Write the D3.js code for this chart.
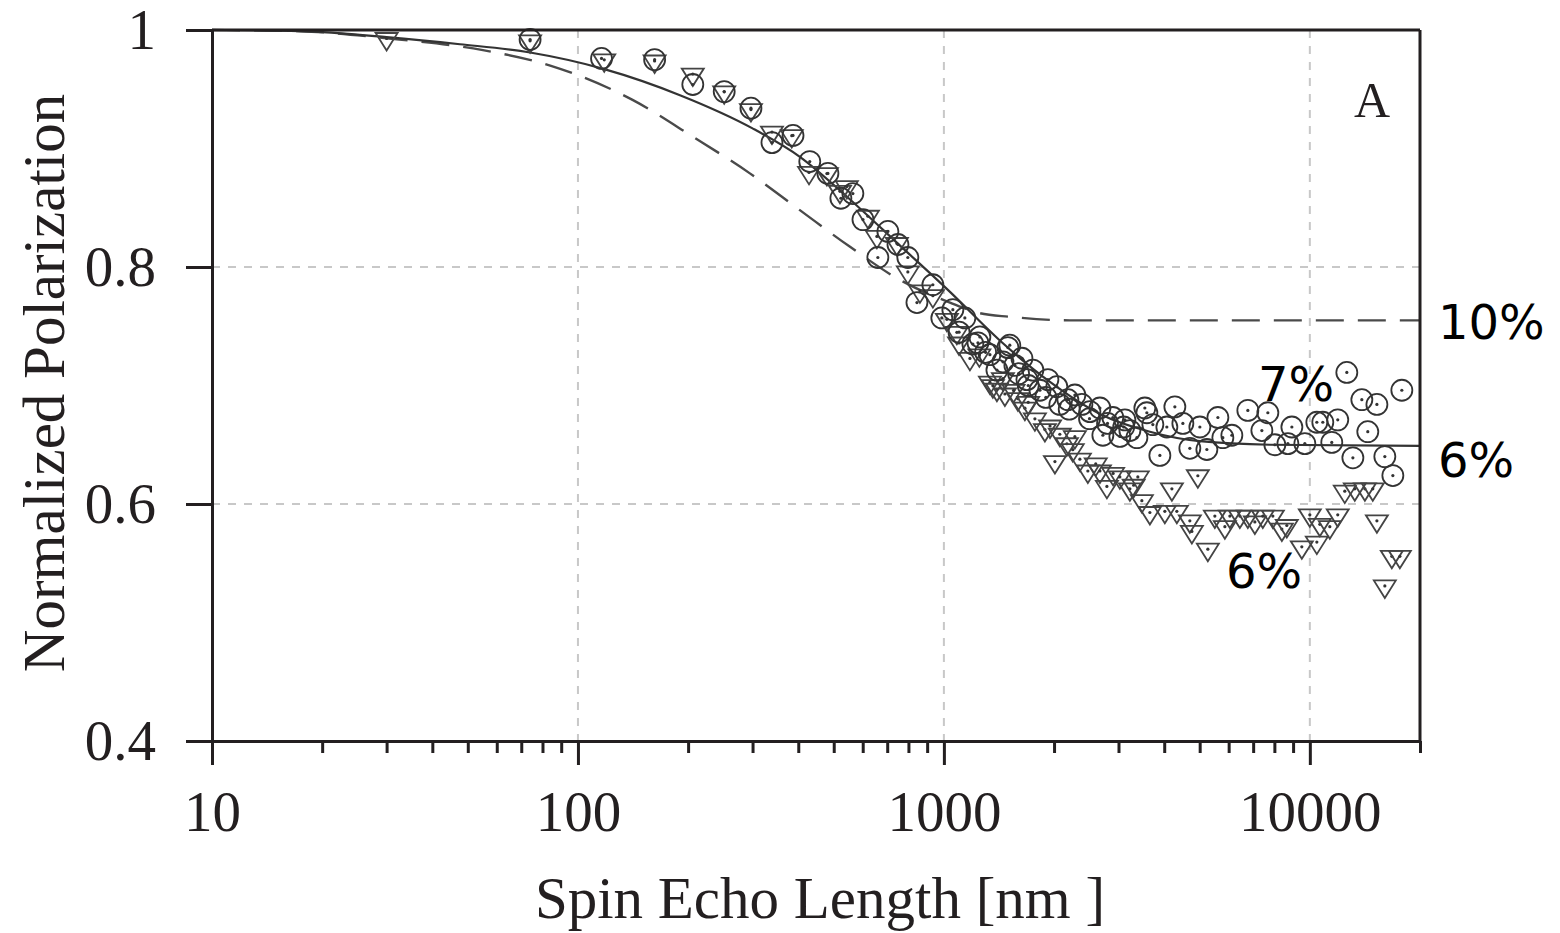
<!DOCTYPE html>
<meta charset="utf-8">
<style>
body { margin: 0; background: #fff; }
.axis text { font-family: "Liberation Serif", serif; font-size: 57px; fill: #231f20; }
.axis path, .axis line { stroke: #231f20; stroke-width: 3; }
.grid line { stroke: #c8c8c8; stroke-width: 2; stroke-dasharray: 8,8; }
.title { font-family: "Liberation Serif", serif; font-size: 59px; fill: #231f20; }
.note { font-family: "DejaVu Sans", sans-serif; font-size: 48px; fill: #000; }
</style>
<body>
<script src="https://cdnjs.cloudflare.com/ajax/libs/d3/7.8.5/d3.min.js"></script>
<script>

// ===== data =====
// circles (7% sample)
var circleX = [74,116,162,206,251,297,339,387,430,482,523,564,601,660,703,749,797,844,933,987,
               1058,1100,1141,1200,1239,1254,1300,1336,1396,1450,1496,1514,1563,1600,1634,1686,1700,1751,1830,1900,
               1924,2035,2074,2182,2200,2280,2383,2500,2506,2669,2719,2800,2895,3026,3100,3123,3223,3368,3541,3586,
               3724,3892,4067,4277,4498,4700,5006,5231,5607,5785,6122,6770,7394,7678,8024,8710,8931,9690,10450,10850,
               11480,11920,12620,13110,13870,14400,15250,16030,16860,17840];
var circleY = [0.992,0.976,0.975,0.954,0.948,0.934,0.905,0.911,0.889,0.879,0.858,0.862,0.840,0.808,0.830,0.819,0.808,0.770,0.785,0.757,
               0.764,0.745,0.757,0.735,0.736,0.741,0.728,0.726,0.713,0.720,0.732,0.734,0.717,0.710,0.723,0.705,0.700,0.713,0.696,0.690,
               0.705,0.699,0.684,0.688,0.680,0.692,0.684,0.672,0.678,0.681,0.658,0.668,0.673,0.657,0.665,0.671,0.662,0.656,0.681,0.677,
               0.667,0.641,0.665,0.682,0.668,0.647,0.665,0.646,0.673,0.656,0.658,0.679,0.662,0.677,0.650,0.651,0.665,0.651,0.669,0.669,
               0.652,0.671,0.711,0.639,0.688,0.661,0.684,0.640,0.624,0.696];

// triangles (6% sample)
var triX = [30,74,118,162,206,251,297,339,384,428,479,520,543,620,656,744,797,860,933,1019,
            1085,1100,1178,1250,1336,1361,1396,1450,1468,1550,1593,1665,1700,1773,1888,1950,2011,2074,2168,2250,
            2280,2353,2474,2600,2669,2789,2900,3026,3223,3300,3388,3475,3655,4016,4198,4331,4700,4760,4943,5264,
            5501,5859,6046,6438,6770,7076,7439,7924,8386,8652,9508,10000,10450,10650,11340,11920,12460,13270,14140,14860,
            15250,16030,16750,17620];
var triY = [0.992,0.990,0.974,0.973,0.962,0.947,0.932,0.913,0.910,0.879,0.878,0.863,0.867,0.842,0.825,0.819,0.795,0.779,0.775,0.755,
            0.744,0.735,0.722,0.725,0.702,0.699,0.696,0.705,0.692,0.695,0.688,0.680,0.685,0.671,0.662,0.665,0.635,0.658,0.650,0.645,
            0.656,0.637,0.627,0.633,0.627,0.614,0.625,0.622,0.612,0.615,0.622,0.602,0.592,0.593,0.612,0.593,0.585,0.576,0.623,0.561,
            0.589,0.580,0.589,0.589,0.589,0.584,0.589,0.589,0.578,0.581,0.563,0.590,0.567,0.582,0.580,0.590,0.610,0.612,0.612,0.612,
            0.585,0.530,0.555,0.555];

// fitted curves (solid = 6%, dashed = 10%)
var solidX = [10,17.4,30,47.6,74,118,190,300,404,554,759,1039,1422,1949,2669,3655,5006,7778,20000];
var solidY = [1.0,0.999,0.994,0.988,0.981,0.967,0.945,0.917,0.893,0.857,0.818,0.779,0.738,0.703,0.676,0.661,0.653,0.650,0.649];
var dashX = [10,17.4,30,55,84,141,206,295,404,554,759,1039,1254,1514,2208,20000];
var dashY = [1.0,0.999,0.993,0.983,0.970,0.941,0.910,0.879,0.848,0.817,0.789,0.770,0.761,0.758,0.755,0.755];

// ticks
var xMajor = [10,100,1000,10000];
var xMinor = [20,30,40,50,60,70,80,90,200,300,400,500,600,700,800,900,
              2000,3000,4000,5000,6000,7000,8000,9000,20000];
var yTicks = [0.4,0.6,0.8,1];
var yTickLabels = ["0.4","0.6","0.8","1"];
var xGrid = [100,1000,10000];
var yGrid = [0.6,0.8];

var notes = [
  {t:"10%", x:1438, y:339},
  {t:"6%",  x:1438, y:477},
  {t:"7%",  x:1258, y:401},
  {t:"6%",  x:1226, y:588}
];

// ===== layout =====
var W = 1560, H = 933;
var mLeft = 212, mRight = 1420, mTop = 30, mBottom = 741;

var svg = d3.select('body').append('svg').attr('width', W).attr('height', H);

var x = d3.scaleLog().domain([10, 20000]).range([mLeft, mRight]);
var y = d3.scaleLinear().domain([0.4, 1]).range([mBottom, mTop]);

// grid
var grid = svg.append('g').attr('class', 'grid');
grid.selectAll('line.v').data(xGrid).enter().append('line')
    .attr('x1', function(d){return x(d);}).attr('x2', function(d){return x(d);})
    .attr('y1', mTop).attr('y2', mBottom);
grid.selectAll('line.h').data(yGrid).enter().append('line')
    .attr('x1', mLeft).attr('x2', mRight)
    .attr('y1', function(d){return y(d);}).attr('y2', function(d){return y(d);});

// fit curves
var line = d3.line()
    .x(function(d){return x(d[0]);})
    .y(function(d){return y(d[1]);})
    .curve(d3.curveMonotoneX);

svg.append('path')
    .datum(dashX.map(function(v,i){return [v, dashY[i]];}))
    .attr('d', line)
    .attr('fill', 'none').attr('stroke', '#4a4a4a').attr('stroke-width', 2.4)
    .attr('stroke-dasharray', '28,14');

svg.append('path')
    .datum(solidX.map(function(v,i){return [v, solidY[i]];}))
    .attr('d', line)
    .attr('fill', 'none').attr('stroke', '#333').attr('stroke-width', 2.2);

// triangle markers
var tri = svg.append('g').selectAll('g')
    .data(triX.map(function(v,i){return [v, triY[i]];}))
    .enter().append('g')
    .attr('transform', function(d){return 'translate(' + x(d[0]) + ',' + y(d[1]) + ')';});
tri.append('path')
    .attr('d', 'M-11,-6.5L11,-6.5L0,11Z')
    .attr('fill', 'none').attr('stroke', '#444').attr('stroke-width', 1.8);
tri.append('circle').attr('r', 1.6).attr('cy', -1).attr('fill', '#333');

// circle markers
var circ = svg.append('g').selectAll('g')
    .data(circleX.map(function(v,i){return [v, circleY[i]];}))
    .enter().append('g')
    .attr('transform', function(d){return 'translate(' + x(d[0]) + ',' + y(d[1]) + ')';});
circ.append('circle').attr('r', 10.5)
    .attr('fill', 'none').attr('stroke', '#333').attr('stroke-width', 1.8);
circ.append('circle').attr('r', 1.6).attr('fill', '#333');

// frame (top and right)
svg.append('line').attr('x1', mLeft).attr('x2', mRight).attr('y1', mTop).attr('y2', mTop)
    .attr('stroke', '#231f20').attr('stroke-width', 3);
svg.append('line').attr('x1', mRight).attr('x2', mRight).attr('y1', mTop).attr('y2', mBottom)
    .attr('stroke', '#231f20').attr('stroke-width', 3);

// x axis: minor ticks then major with labels
svg.append('g').attr('class', 'axis')
    .attr('transform', 'translate(0,' + mBottom + ')')
    .call(d3.axisBottom(x).tickValues(xMinor).tickSize(12).tickSizeOuter(0).tickFormat(''));
svg.append('g').attr('class', 'axis')
    .attr('transform', 'translate(0,' + mBottom + ')')
    .call(d3.axisBottom(x).tickValues(xMajor).tickSize(24).tickSizeOuter(0).tickPadding(26)
        .tickFormat(d3.format('d')));

// y axis
svg.append('g').attr('class', 'axis')
    .attr('transform', 'translate(' + mLeft + ',0)')
    .call(d3.axisLeft(y).tickValues(yTicks).tickSize(26).tickSizeOuter(0).tickPadding(30)
        .tickFormat(function(d,i){return yTickLabels[i];}));

// titles
svg.append('text').attr('class', 'title')
    .attr('x', 820).attr('y', 918).attr('text-anchor', 'middle')
    .text('Spin Echo Length [nm ]');
svg.append('text').attr('class', 'title')
    .attr('transform', 'rotate(-90)')
    .attr('x', -383).attr('y', 64).attr('text-anchor', 'middle')
    .text('Normalized Polarization');

// panel letter
svg.append('text').attr('class', 'title').style('font-size', '50px')
    .attr('x', 1372).attr('y', 117).attr('text-anchor', 'middle').text('A');

// percent notes
svg.selectAll('text.note').data(notes).enter().append('text')
    .attr('class', 'note')
    .attr('x', function(d){return d.x;}).attr('y', function(d){return d.y;})
    .text(function(d){return d.t;});

</script>
</body>
